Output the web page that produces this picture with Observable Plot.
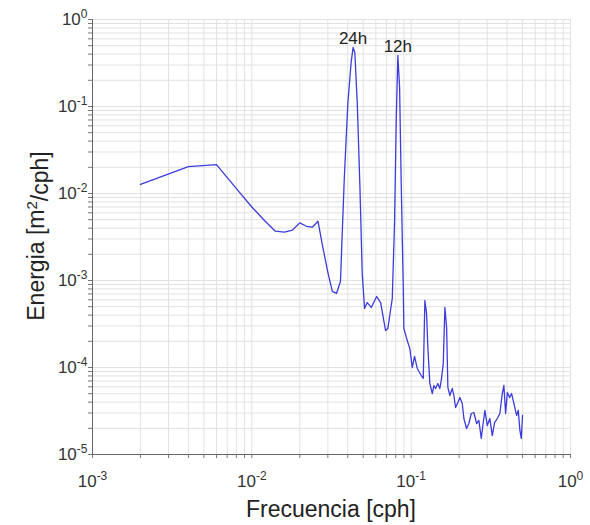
<!DOCTYPE html>
<html>
<head>
<meta charset="utf-8">
<script src="https://cdn.jsdelivr.net/npm/d3@7"></script>
<script src="https://cdn.jsdelivr.net/npm/@observablehq/plot@0.6"></script>
<style>
  html, body { margin: 0; padding: 0; background: #fff; }
  #chart svg { font-family: "Liberation Sans", Arial, sans-serif; }
</style>
</head>
<body>
<div id="chart"></div>
<script>
const freq = [0.002,0.004,0.006,0.008,0.010,0.012,0.014,0.016,0.018,0.020,0.022,0.024,0.026,0.028,0.030,0.032,0.034,0.036,0.038,0.040,0.042,
  0.0432,0.0443,0.0459,0.0477,0.0493,0.0510,0.0530,0.0562,0.0607,0.0643,0.0691,0.0714,0.0761,0.0787,0.0806,0.0825,0.0846,0.0867,0.0892,0.0900,
  0.0945,0.0981,0.1016,0.105,0.1092,0.1146,0.1191,0.1219,0.1249,0.1273,0.1310,0.1357,0.1388,0.1423,0.1471,0.1514,0.1545,0.1590,0.1628,0.1669,
  0.1700,0.1750,0.1811,0.1854,0.1900,0.1963,0.2021,0.2093,0.2142,0.2227,0.2302,0.2384,0.2475,0.2574,0.2661,0.2754,0.2835,0.2902,0.3004,0.3119,
  0.3228,0.3338,0.3471,0.3604,0.3732,0.3819,0.3915,0.4012,0.4147,0.4269,0.4413,0.4588,0.4703,0.4813,0.4911,0.5000];
const energy = [0.0127,0.0204,0.0215,0.0114,0.0070,0.0049,0.0037,0.0036,0.0038,0.0046,0.0042,0.0041,0.0048,0.00233,0.00124,0.00075,0.00071,0.00098,0.0141,0.105,0.321,
  0.477,0.418,0.108,0.0117,0.00120,0.000477,0.000558,0.000490,0.000655,0.000558,0.000266,0.000281,0.000621,0.0049,0.069,0.386,0.165,0.0117,0.000831,0.000281,
  0.000204,0.000165,0.000100,0.000134,0.0000975,0.0000831,0.0000748,0.000589,0.000418,0.00017,0.0000655,0.0000502,0.0000621,0.0000574,0.0000655,0.0000574,0.000071,0.000111,0.00049,0.000288,
  0.0000589,0.0000477,0.0000574,0.0000477,0.0000347,0.0000396,0.0000452,0.0000386,0.0000259,0.0000199,0.0000227,0.0000296,0.0000304,0.0000227,0.0000246,0.0000153,0.0000233,0.0000321,0.0000215,0.0000259,
  0.0000165,0.0000233,0.0000259,0.0000296,0.0000502,0.0000621,0.0000296,0.0000516,0.0000452,0.0000502,0.0000386,0.0000281,0.0000321,0.0000189,0.0000153,0.0000281];

const peakLabels = ["24h", "12h"];
const peakFreq = [0.0432, 0.0825];
const peakEnergy = [0.477, 0.386];

const xMajor = [0.001, 0.01, 0.1, 1];
const yMajor = [1e-5, 1e-4, 1e-3, 1e-2, 1e-1, 1];
const xLabel = "Frecuencia [cph]";
const yLabelParts = ["Energia [m", "2", "/cph]"];

function withMinor(majors) {
  const out = [];
  for (let i = 0; i < majors.length - 1; i++) {
    for (let k = 1; k <= 9; k++) out.push(+(k * majors[i]).toPrecision(6));
  }
  out.push(majors[majors.length - 1]);
  return out;
}
const xAll = withMinor(xMajor);
const yAll = withMinor(yMajor);
const isMajor = (list) => (d) => list.some(m => Math.abs(m - d) / m < 1e-9);
const fmt = (list) => (d) => isMajor(list)(d) ? "10^" + Math.round(Math.log10(d)) : "";

const data = freq.map((f, i) => ({f, e: energy[i]}));
const peaks = peakLabels.map((l, i) => ({l, f: peakFreq[i], e: peakEnergy[i]}));

const W = 590, H = 525;
const chart = Plot.plot({
  width: W, height: H,
  marginLeft: 92, marginRight: 20, marginTop: 19, marginBottom: 71,
  style: {fontFamily: '"Liberation Sans", Arial, sans-serif', background: "#fff"},
  x: {type: "log", domain: [1e-3, 1]},
  y: {type: "log", domain: [1e-5, 1]},
  marks: [
    Plot.gridX(xAll, {stroke: "#e2e2e2", strokeOpacity: 1}),
    Plot.gridY(yAll, {stroke: "#e2e2e2", strokeOpacity: 1}),
    Plot.axisX(xAll, {tickSize: 4, tickPadding: 16, tickFormat: fmt(xMajor), stroke: "#777",
      fontSize: 17, fill: "#333", label: null}),
    Plot.axisY(yAll, {tickSize: 4, tickPadding: 1, tickFormat: fmt(yMajor), stroke: "#777",
      fontSize: 17, fill: "#333", label: null}),
    Plot.ruleX([1e-3], {stroke: "#666"}),
    Plot.ruleY([1e-5], {stroke: "#666"}),
    Plot.line(data, {x: "f", y: "e", stroke: "#3c3cdc", strokeWidth: 1.3}),
    Plot.text(peaks, {x: "f", y: "e", text: "l", lineAnchor: "bottom", dy: -3, fontSize: 17, fill: "#222"})
  ]
});

document.getElementById("chart").appendChild(chart);

const ns = "http://www.w3.org/2000/svg";
chart.querySelectorAll('g[aria-label$="tick label"] text').forEach(t => {
  const s = t.textContent;
  const i = s.indexOf("^");
  if (i < 0) return;
  t.textContent = "";
  const a = document.createElementNS(ns, "tspan");
  a.textContent = s.slice(0, i);
  const b = document.createElementNS(ns, "tspan");
  b.textContent = s.slice(i + 1);
  b.setAttribute("dy", "-0.55em");
  b.setAttribute("font-size", "12");
  t.append(a, b);
});

const svg = d3.select(chart);
svg.append("text")
  .attr("x", 331).attr("y", 517)
  .attr("text-anchor", "middle")
  .attr("font-size", 23).attr("fill", "#222")
  .text(xLabel);
const yl = svg.append("text")
  .attr("transform", "translate(44,236) rotate(-90)")
  .attr("text-anchor", "middle")
  .attr("font-size", 23).attr("fill", "#222");
yl.append("tspan").text(yLabelParts[0]);
yl.append("tspan").attr("dy", "-0.5em").attr("font-size", 15).text(yLabelParts[1]);
yl.append("tspan").attr("dy", "0.5em").text(yLabelParts[2]);
</script>
</body>
</html>
